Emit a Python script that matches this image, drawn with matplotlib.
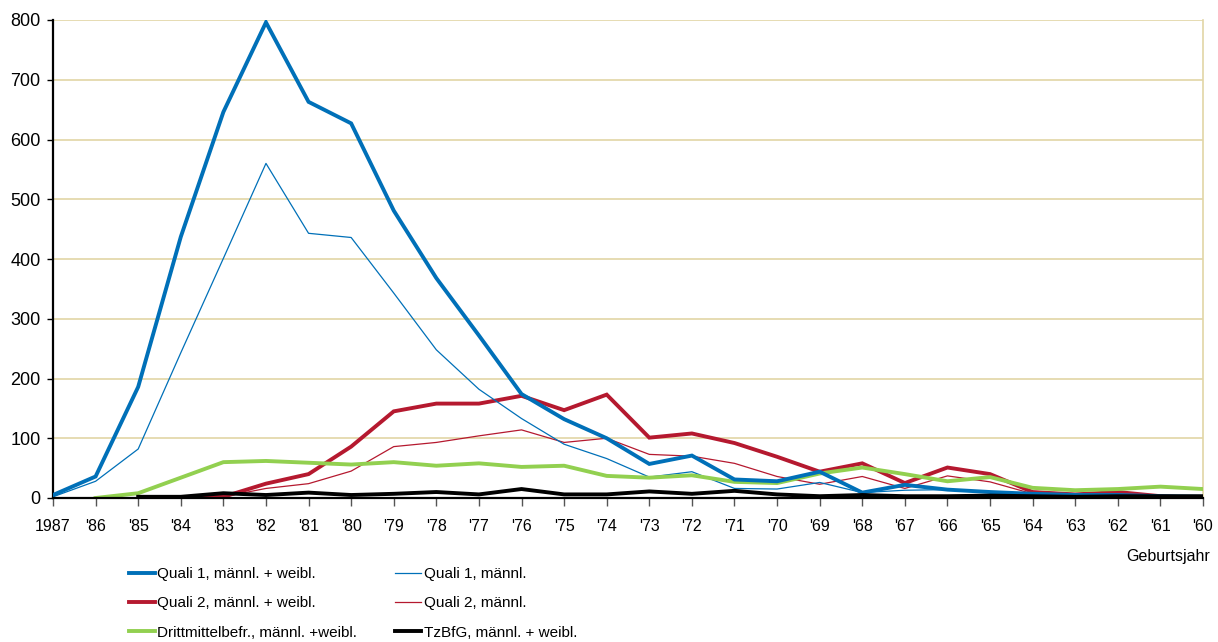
import matplotlib
matplotlib.use("Agg")
import matplotlib.pyplot as plt

plt.rcParams['font.family'] = ['Liberation Sans', 'DejaVu Sans']

years = ["1987", "'86", "'85", "'84", "'83", "'82", "'81", "'80", "'79", "'78",
         "'77", "'76", "'75", "'74", "'73", "'72", "'71", "'70", "'69", "'68",
         "'67", "'66", "'65", "'64", "'63", "'62", "'61", "'60"]

quali1_mw = [5, 36, 186, 437, 646, 796, 663, 627, 481, 368,
             272, 174, 132, 100, 57, 71, 31, 28, 44, 9,
             22, 14, 10, 7, 5, 5, 3, 2]
quali1_m = [2, 28, 82, 243, 401, 560, 443, 436, 343, 248,
            182, 133, 90, 66, 35, 44, 16, 15, 26, 9,
            13, 14, 10, 6, 4, 3, 2, 1]
quali2_mw = [None, None, None, 0, 2, 24, 40, 86, 145, 158,
             158, 171, 147, 173, 101, 108, 92, 69, 44, 58,
             25, 51, 40, 10, 6, 10, 3, 0]
quali2_m = [None, None, None, 0, 2, 16, 24, 45, 86, 93,
            104, 114, 93, 100, 73, 70, 58, 36, 23, 36,
            16, 37, 27, 7, 4, 7, 2, 0]
dritt_mw = [None, 0, 8, 34, 60, 62, 59, 56, 60, 54,
            58, 52, 54, 37, 34, 38, 27, 25, 41, 51,
            40, 28, 35, 17, 13, 15, 19, 15]
tzbfg_mw = [None, None, 2, 2, 8, 5, 9, 5, 7, 10,
            6, 15, 6, 6, 11, 7, 12, 6, 3, 5,
            3, 3, 4, 3, 2, 3, 3, 3]

yticks = [0, 100, 200, 300, 400, 500, 600, 700, 800]

BLUE = '#0070B8'
RED = '#B5192F'
GREEN = '#92D050'
BLACK = '#000000'
GRID = '#E2D5A6'

fig = plt.figure(figsize=(12.18, 6.42), dpi=100)
ax = fig.add_axes([53/1218, 1-498/642, (1203-53)/1218, (498-20)/642])

x = list(range(len(years)))

def nz(v):
    return [float('nan') if a is None else a for a in v]

l_q1mw, = ax.plot(x, nz(quali1_mw), color=BLUE, lw=2.8, solid_joinstyle='miter', zorder=5)
l_q1m, = ax.plot(x, nz(quali1_m), color=BLUE, lw=0.9, zorder=4)
l_q2mw, = ax.plot(x, nz(quali2_mw), color=RED, lw=2.8, solid_joinstyle='miter', zorder=3)
l_q2m, = ax.plot(x, nz(quali2_m), color=RED, lw=0.9, zorder=3)
l_dr, = ax.plot(x, nz(dritt_mw), color=GREEN, lw=2.8, zorder=4)
l_tz, = ax.plot(x, nz(tzbfg_mw), color=BLACK, lw=2.8, zorder=6)

ax.set_xlim(0, len(years) - 1)
ax.set_ylim(0, 800)
ax.set_yticks(yticks)
ax.set_xticks(x)
ax.set_xticklabels(years)
ax.yaxis.grid(True, color=GRID, lw=1.2)
ax.set_axisbelow(True)

ax.spines['top'].set_visible(False)
ax.spines['right'].set_color(GRID)
ax.spines['right'].set_linewidth(1.2)
ax.spines['left'].set_color('black')
ax.spines['left'].set_linewidth(1.6)
ax.spines['bottom'].set_color('black')
ax.spines['bottom'].set_linewidth(1.6)
ax.spines['bottom'].set_zorder(7)

ax.tick_params(axis='x', direction='out', length=6, width=1, color='#555555',
               labelsize=11.5, pad=9)
ax.tick_params(axis='y', direction='out', length=4, width=1, color='black',
               labelsize=13, pad=5)

fig.text(1210/1218, 1-556/642, 'Geburtsjahr', ha='right', va='center', fontsize=11.5)

handles = [l_q1mw, l_q2mw, l_dr, l_q1m, l_q2m, l_tz]
labels = ['Quali 1, männl. + weibl.', 'Quali 2, männl. + weibl.',
          'Drittmittelbefr., männl. +weibl.', 'Quali 1, männl.',
          'Quali 2, männl.', 'TzBfG, männl. + weibl.']
fig.legend(handles, labels, loc='upper left', bbox_to_anchor=(129/1218, 1-567/642),
           ncol=2, frameon=False, fontsize=11, borderpad=0, borderaxespad=0,
           handlelength=1.7, handletextpad=0.15, columnspacing=2.5,
           labelspacing=1.0)

fig.savefig('out.png', dpi=100)
